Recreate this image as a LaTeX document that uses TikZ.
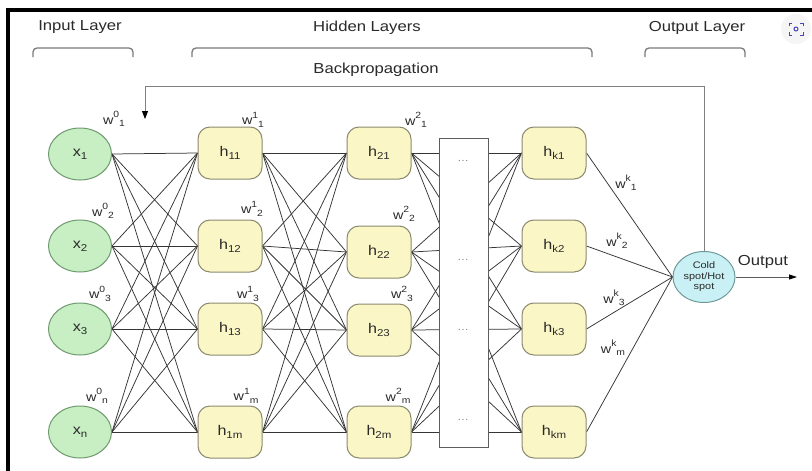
\documentclass[tikz,border=0pt]{standalone}
\usepackage{fontspec}
\setmainfont{Liberation Sans}[FakeStretch=1.15]
\usetikzlibrary{arrows.meta,shapes.geometric}
\definecolor{edgec}{HTML}{353535}
\definecolor{txt}{HTML}{2A2A2A}
\definecolor{greenf}{HTML}{C8EEC4}
\definecolor{greend}{HTML}{6E9A6E}
\definecolor{yellf}{HTML}{FBF6C6}
\definecolor{yelld}{HTML}{8A8A70}
\definecolor{cyanf}{HTML}{C9F0F4}
\definecolor{cyand}{HTML}{6E9A9A}
\definecolor{brk}{HTML}{7A7A7A}
\pgfdeclarelayer{edgelayer}
\pgfdeclarelayer{boxlayer}
\pgfsetlayers{edgelayer,boxlayer,main}
\newcommand{\nsub}[1]{\raisebox{-0.22em}{\fontsize{10}{10}\selectfont #1}}
\newcommand{\wlbl}[2]{w\raisebox{0.5em}{\fontsize{9}{9}\selectfont #1}\raisebox{-0.2em}{\fontsize{9}{9}\selectfont #2}}
\tikzset{
  innode/.style={ellipse, draw=greend, fill=greenf, line width=1pt, minimum width=63, minimum height=52, inner sep=0pt, text=txt, font=\fontsize{14}{16}\selectfont},
  hnode/.style={rectangle, rounded corners=12pt, draw=yelld, fill=yellf, line width=1pt, minimum width=64, minimum height=52, inner sep=0pt, text=txt, font=\fontsize{14}{16}\selectfont},
  outnode/.style={ellipse, draw=cyand, fill=cyanf, line width=1pt, minimum width=62, minimum height=51, inner sep=0pt, text=txt, align=center, font=\fontsize{9.5}{10.5}\selectfont},
  wlab/.style={text=txt, font=\fontsize{12.5}{14}\selectfont, inner sep=0pt},
  title/.style={text=txt, font=\fontsize{14.5}{16}\selectfont, inner sep=0pt},
  conn/.style={draw=edgec, line width=0.75pt},
  bracket/.style={draw=brk, line width=1.3pt, rounded corners=4pt},
  dotbox/.style={draw=edgec!80, fill=white, line width=0.9pt},
  dotlab/.style={text=gray, font=\fontsize{10}{12}\selectfont},
}
\begin{document}
\begin{tikzpicture}[x=1pt,y=-1pt]
\useasboundingbox (0,0) rectangle (812,471);
\begin{pgfonlayer}{edgelayer}
\fill[white] (0,0) rectangle (812,471);
\end{pgfonlayer}
% frame
\draw[black, line width=3.2pt] (8,471) -- (8,10) -- (812,10);
% titles and brackets
\node[title] (tin) at (80,27) {Input Layer};
\node[title] (thid) at (367,28) {Hidden Layers};
\node[title] (tout) at (697,28) {Output Layer};
\node[title] (tbp) at (376,70) {Backpropagation};
\draw[bracket] (33,57) -- (33,48) -- (133,48) -- (133,57);
\draw[bracket] (192,57) -- (192,48) -- (592,48) -- (592,57);
\draw[bracket] (645,57) -- (645,48) -- (745,48) -- (745,57);
% scan icon
\node[circle, fill=gray!8, minimum size=30pt, inner sep=0pt] (scan) at (796,29) {};
\begin{scope}[draw=blue!45!gray, line width=1pt]
\draw (789,26) -- (789,23) -- (792,23);
\draw (800,23) -- (803,23) -- (803,26);
\draw (803,32) -- (803,35) -- (800,35);
\draw (792,35) -- (789,35) -- (789,32);
\draw (796,29) circle (2pt);
\end{scope}
% nodes
\node[innode] (x1) at (80,154) {x\nsub{1}};
\node[innode] (x2) at (80,246) {x\nsub{2}};
\node[innode] (x3) at (80,329) {x\nsub{3}};
\node[innode] (x4) at (80,432) {x\nsub{n}};
\node[hnode] (a1) at (230,153) {h\nsub{11}};
\node[hnode] (a2) at (230,246) {h\nsub{12}};
\node[hnode] (a3) at (230,329) {h\nsub{13}};
\node[hnode] (a4) at (230,432) {h\nsub{1m}};
\node[hnode] (b1) at (379,153) {h\nsub{21}};
\node[hnode] (b2) at (379,252) {h\nsub{22}};
\node[hnode] (b3) at (379,330) {h\nsub{23}};
\node[hnode] (b4) at (379,432) {h\nsub{2m}};
\node[hnode] (k1) at (554,153) {h\nsub{k1}};
\node[hnode] (k2) at (554,246) {h\nsub{k2}};
\node[hnode] (k3) at (554,329) {h\nsub{k3}};
\node[hnode] (k4) at (554,432) {h\nsub{km}};
\node[outnode] (cold) at (704,277) {Cold\\spot/Hot\\spot};
% connections (behind nodes)
\begin{pgfonlayer}{edgelayer}
\foreach \i in {1,...,4}{
  \foreach \j in {1,...,4}{
    \draw[conn] (x\i.east) -- (a\j.west);
    \draw[conn] (a\i.east) -- (b\j.west);
    \draw[conn] (b\i.east) -- (k\j.west);
  }
  \draw[conn] (k\i.east) -- (cold.west);
}
\end{pgfonlayer}
% dots box over the middle connections
\begin{pgfonlayer}{boxlayer}
\node[dotbox, minimum width=49, minimum height=309, inner sep=0pt] (dbox) at (463.5,292.5) {};
\end{pgfonlayer}
\node[dotlab] (d1) at (463,161) {\ldots};
\node[dotlab] (d2) at (463,260) {\ldots};
\node[dotlab] (d3) at (463,330) {\ldots};
\node[dotlab] (d4) at (463,420) {\ldots};
% output arrow
\coordinate (outend) at (797,277);
\draw[conn, draw=edgec!80, -{Triangle[length=8pt,width=5pt,color=black]}] (cold.east) -- (outend);
\node[title] (outl) at (763,262) {Output};
% backpropagation
\coordinate (bp1) at (704,86);
\coordinate (bp2) at (145,86);
\coordinate (bp3) at (145,119);
\draw[draw=gray, line width=0.8pt, -{Triangle[length=8pt,width=6pt,color=black]}] (cold.north) -- (bp1) -- (bp2) -- (bp3);
% weight labels
\node[wlab] (w01) at (114,119) {\wlbl{0}{1}};
\node[wlab] (w02) at (103,211) {\wlbl{0}{2}};
\node[wlab] (w03) at (100,294) {\wlbl{0}{3}};
\node[wlab] (w0n) at (97,396) {\wlbl{0}{n}};
\node[wlab] (w11) at (253,120) {\wlbl{1}{1}};
\node[wlab] (w12) at (252,209) {\wlbl{1}{2}};
\node[wlab] (w13) at (248,294) {\wlbl{1}{3}};
\node[wlab] (w1m) at (246,396) {\wlbl{1}{m}};
\node[wlab] (w21) at (416,120) {\wlbl{2}{1}};
\node[wlab] (w22) at (404,214) {\wlbl{2}{2}};
\node[wlab] (w23) at (402,294) {\wlbl{2}{3}};
\node[wlab] (w2m) at (398,396) {\wlbl{2}{m}};
\node[wlab] (wk1) at (626,183) {\wlbl{k}{1}};
\node[wlab] (wk2) at (617,241) {\wlbl{k}{2}};
\node[wlab] (wk3) at (614,298) {\wlbl{k}{3}};
\node[wlab] (wkm) at (613,348) {\wlbl{k}{m}};
\end{tikzpicture}
\end{document}
